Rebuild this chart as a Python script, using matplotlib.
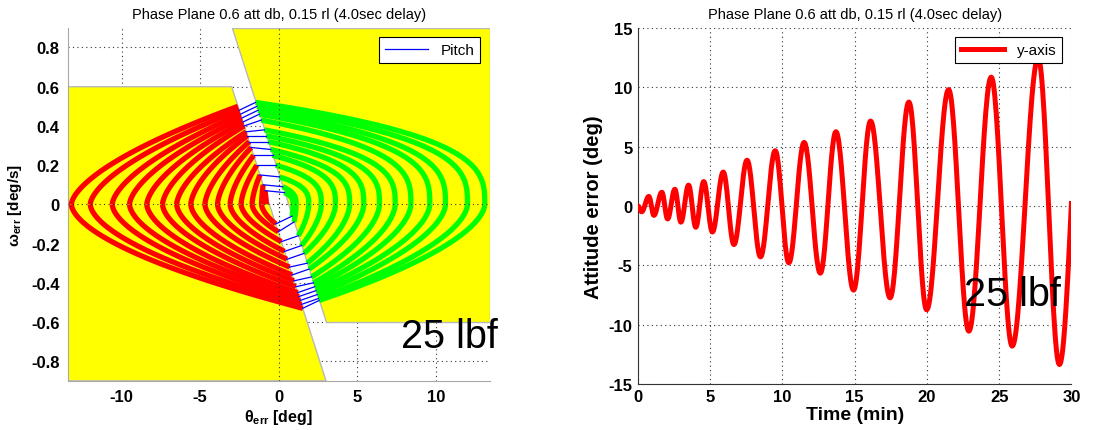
import numpy as np
import matplotlib.pyplot as plt
from matplotlib.patches import Polygon

plt.rcParams['font.family'] = ['Liberation Sans', 'DejaVu Sans']
plt.rcParams['mathtext.fontset'] = 'custom'
plt.rcParams['mathtext.rm'] = 'Liberation Sans'
plt.rcParams['mathtext.bf'] = 'Liberation Sans:bold'
plt.rcParams['mathtext.it'] = 'Liberation Sans:italic'
plt.rcParams['axes.unicode_minus'] = False

TITLE = 'Phase Plane 0.6 att db, 0.15 rl (4.0sec delay)'

# ---- phase plane (left) ----
att_db = 0.6          # deg, half width of the white band at omega = 0
sw_slope = 4.0        # switching line: theta = +/-att_db - sw_slope*omega
rate_lim = 0.6        # deg/s, edge of the yellow regions
th_lim = 13.4
w_lim = 0.9

# theta where each swing turns (omega = 0)
left_ext = [-0.8, -1.1, -1.7, -2.4, -3.1, -3.9, -4.7, -5.6, -6.5, -7.4, -8.4,
            -9.5, -10.6, -12.0, -13.2]
right_ext = [0.9, 1.1, 1.9, 2.7, 3.6, 4.5, 5.4, 6.4, 7.4, 8.4, 9.6, 10.6,
             12.0, 13.1]
# rate where each arc meets the band
red_top = [0.07, 0.10, 0.15, 0.20, 0.25, 0.29, 0.32, 0.35, 0.37, 0.40, 0.42,
           0.44, 0.46, 0.48, 0.50]
green_top = [0.06, 0.09, 0.14, 0.20, 0.25, 0.28, 0.32, 0.35, 0.38, 0.43,
             0.46, 0.48, 0.50, 0.52]
green_bot = [-0.06, -0.09, -0.16, -0.21, -0.25, -0.30, -0.33, -0.37, -0.40,
             -0.42, -0.44, -0.46, -0.48, -0.49]
red_bot = [-0.10, -0.14, -0.19, -0.24, -0.28, -0.32, -0.36, -0.39, -0.42,
           -0.45, -0.47, -0.49, -0.51, -0.53]

# ---- attitude error time history (right): turning points ----
t_ext = [0, 0.25, 0.75, 1.1, 1.65, 2.05, 2.55, 2.97, 3.5, 4.0, 4.55, 5.15,
         5.9, 6.64, 7.55, 8.48, 9.5, 10.44, 11.5, 12.62, 13.7, 14.92, 16.1,
         17.45, 18.75, 19.98, 21.5, 22.9, 24.45, 25.9, 27.7, 29.17, 30.0]
v_ext = [0, -0.5, 0.8, -0.8, 1.15, -1.1, 1.4, -1.37, 1.75, -1.8, 2.05, -2.2,
         2.85, -3.26, 3.85, -4.3, 4.65, -4.8, 5.35, -5.67, 6.25, -7.1, 7.15,
         -7.75, 8.75, -8.76, 9.8, -10.56, 10.85, -11.82, 12.45, -13.37, 0.2]


def arc(th_ext, w_peak, side, p, n=40):
    # thrust arc from a turning point to where it meets the band edge
    th_peak = side * att_db - sw_slope * w_peak
    w = np.linspace(0, w_peak, n)
    th = th_ext + (th_peak - th_ext) * np.abs(w / w_peak) ** p
    return th, w


fig = plt.figure(figsize=(11, 4.31), dpi=100)
ax1 = fig.add_axes([0.062, 0.114, 0.383, 0.819])
ax2 = fig.add_axes([0.580, 0.107, 0.394, 0.826])

grid_kw = dict(color='#333333', linestyle=(0, (1, 3)), linewidth=0.8)

# left panel
ax1.set_axisbelow(True)
ax1.grid(True, **grid_kw)
left_poly = [(-th_lim, rate_lim), (-att_db - sw_slope * rate_lim, rate_lim),
             (-att_db + sw_slope * w_lim, -w_lim), (-th_lim, -w_lim)]
right_poly = [(att_db - sw_slope * w_lim, w_lim), (th_lim, w_lim),
              (th_lim, -rate_lim), (att_db + sw_slope * rate_lim, -rate_lim)]
for poly in (left_poly, right_poly):
    ax1.add_patch(Polygon(poly, closed=True, facecolor='#ffff00',
                          edgecolor='#b8b8b8', linewidth=1.0, zorder=1))

lw = 3.8
for i in range(len(left_ext)):
    th, w = arc(left_ext[i], red_top[i], -1, 1.6)
    ax1.plot(th, w, color='#ff0000', lw=lw, zorder=3, solid_capstyle='butt')
    if i < len(right_ext):
        th, w = arc(right_ext[i], green_top[i], 1, 3.0)
        ax1.plot(th, w, color='#00ff00', lw=lw, zorder=3, solid_capstyle='butt')
        ax1.plot([-att_db - sw_slope * red_top[i], att_db - sw_slope * green_top[i]],
                 [red_top[i], green_top[i]], color='#0000ff', lw=0.9, zorder=4)
        th, w = arc(right_ext[i], green_bot[i], 1, 1.7)
        ax1.plot(th, w, color='#00ff00', lw=lw, zorder=3, solid_capstyle='butt')
        th, w = arc(left_ext[i + 1], red_bot[i], -1, 1.7)
        ax1.plot(th, w, color='#ff0000', lw=lw, zorder=3, solid_capstyle='butt')
        ax1.plot([att_db - sw_slope * green_bot[i], -att_db - sw_slope * red_bot[i]],
                 [green_bot[i], red_bot[i]], color='#0000ff', lw=0.9, zorder=4)

ax1.axhline(0, zorder=5, **grid_kw)
ax1.axvline(0, zorder=5, **grid_kw)
ax1.plot([], [], color='#0000ff', lw=0.9, label='Pitch')
ax1.set_xlim(-th_lim, th_lim)
ax1.set_ylim(-w_lim, w_lim)
ax1.set_xticks([-10, -5, 0, 5, 10])
ax1.set_yticks(np.arange(-0.8, 0.81, 0.2))
ax1.set_yticklabels(['-0.8', '-0.6', '-0.4', '-0.2', '0', '0.2', '0.4', '0.6', '0.8'])
for s in ('top', 'right'):
    ax1.spines[s].set_visible(False)
for s in ('left', 'bottom'):
    ax1.spines[s].set_color('#a8a8a8')
ax1.tick_params(direction='in', length=0, labelsize=12, pad=6)
for lab in ax1.get_xticklabels() + ax1.get_yticklabels():
    lab.set_fontweight('bold')
ax1.set_xlabel(r'$\mathbf{\theta_{err}}$ [deg]', fontsize=11.5, fontweight='bold',
               labelpad=2)
ax1.set_ylabel(r'$\mathbf{\omega_{err}}$ [deg/s]', fontsize=11, fontweight='bold',
               labelpad=5)
ax1.set_title(TITLE, fontsize=10.5, pad=7)
leg1 = ax1.legend(loc='upper right', fontsize=11, fancybox=False,
                  framealpha=1, edgecolor='black', borderaxespad=0.6,
                  handlelength=2.8)
leg1.get_frame().set_linewidth(0.8)
leg1.set_zorder(10)

# right panel
tt = []
vv = []
for k in range(len(t_ext) - 1):
    s = np.linspace(0, 1, 30)
    if k == len(t_ext) - 2:
        shape = 1 - np.cos(np.pi / 2 * s)
    else:
        shape = (1 - np.cos(np.pi * s)) / 2
    tt.append(t_ext[k] + (t_ext[k + 1] - t_ext[k]) * s)
    vv.append(v_ext[k] + (v_ext[k + 1] - v_ext[k]) * shape)
tt = np.concatenate(tt)
vv = np.concatenate(vv)

ax2.grid(True, **grid_kw)
ax2.plot(tt, vv, color='#ff0000', lw=3.6, label='y-axis', zorder=3)
ax2.set_xlim(0, 30)
ax2.set_ylim(-15, 15)
ax2.set_xticks(range(0, 31, 5))
ax2.set_yticks(range(-15, 16, 5))
for s in ('top', 'right'):
    ax2.spines[s].set_visible(False)
for s in ('left', 'bottom'):
    ax2.spines[s].set_color('#333333')
ax2.tick_params(direction='in', length=0, labelsize=12, pad=4)
for lab in ax2.get_xticklabels() + ax2.get_yticklabels():
    lab.set_fontweight('bold')
ax2.set_xlabel('Time (min)', fontsize=14, fontweight='bold', labelpad=1)
ax2.set_ylabel('Attitude error (deg)', fontsize=14.5, fontweight='bold', labelpad=4)
ax2.set_title(TITLE, fontsize=10.5, pad=7)
leg2 = ax2.legend(loc='upper right', fontsize=11, fancybox=False,
                  framealpha=1, edgecolor='black', borderaxespad=0.6,
                  handlelength=2.8)
leg2.get_frame().set_linewidth(0.8)

fig.text(0.409, 0.218, '25 lbf', fontsize=28.5, ha='center', va='center')
fig.text(0.92, 0.316, '25 lbf', fontsize=28.5, ha='center', va='center')

fig.savefig('out.png', dpi=100)
